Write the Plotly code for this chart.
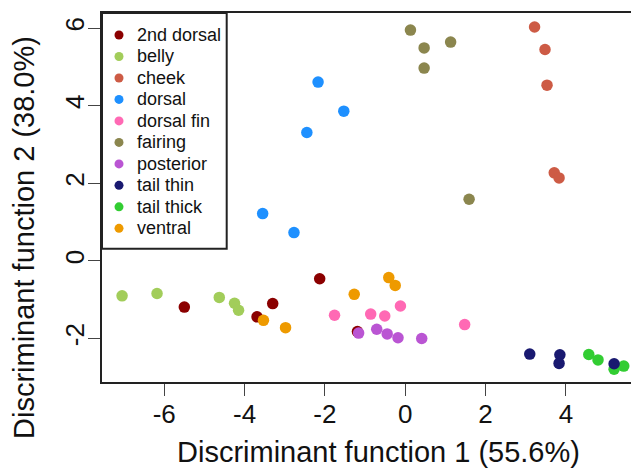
import plotly.graph_objects as go

# ---- data ----
categories = ["2nd dorsal", "belly", "cheek", "dorsal", "dorsal fin",
              "fairing", "posterior", "tail thin", "tail thick", "ventral"]
colors = ["#8B0000", "#A2CD5A", "#CD5B45", "#1E90FF", "#FF69B4",
          "#8B864E", "#BA55D3", "#191970", "#32CD32", "#EE9A00"]

x_2nd_dorsal = [-5.50, -3.30, -3.69, -2.13, -1.19]
y_2nd_dorsal = [-1.19, -1.10, -1.44, -0.46, -1.82]

x_belly = [-7.05, -6.18, -4.63, -4.25, -4.15]
y_belly = [-0.90, -0.84, -0.94, -1.09, -1.27]

x_cheek = [3.22, 3.48, 3.53, 3.71, 3.83]
y_cheek = [6.03, 5.45, 4.53, 2.27, 2.14]

x_dorsal = [-2.17, -1.53, -2.45, -3.55, -2.77]
y_dorsal = [4.61, 3.86, 3.31, 1.22, 0.73]

x_dorsal_fin = [-1.76, -0.86, -0.51, -0.12, 1.48]
y_dorsal_fin = [-1.40, -1.37, -1.42, -1.16, -1.64]

x_fairing = [0.13, 0.47, 1.13, 0.47, 1.59]
y_fairing = [5.95, 5.49, 5.64, 4.97, 1.59]

x_posterior = [-1.16, -0.71, -0.45, -0.18, 0.41]
y_posterior = [-1.86, -1.76, -1.88, -1.98, -2.00]

x_tail_thin = [3.10, 3.85, 3.83, 5.20]
y_tail_thin = [-2.40, -2.42, -2.64, -2.65]

x_tail_thick = [4.57, 4.80, 5.20, 5.44]
y_tail_thick = [-2.41, -2.55, -2.79, -2.71]

x_ventral = [-3.53, -2.98, -1.27, -0.41, -0.25]
y_ventral = [-1.53, -1.72, -0.86, -0.43, -0.63]

x_ticks = [-6, -4, -2, 0, 2, 4]
x_tick_labels = ["-6", "-4", "-2", "0", "2", "4"]
y_ticks = [-2, 0, 2, 4, 6]
y_tick_labels = ["-2", "0", "2", "4", "6"]
x_title = "Discriminant function 1 (55.6%)"
y_title = "Discriminant function 2 (38.0%)"

series = {
    "2nd dorsal": (x_2nd_dorsal, y_2nd_dorsal),
    "belly": (x_belly, y_belly),
    "cheek": (x_cheek, y_cheek),
    "dorsal": (x_dorsal, y_dorsal),
    "dorsal fin": (x_dorsal_fin, y_dorsal_fin),
    "fairing": (x_fairing, y_fairing),
    "posterior": (x_posterior, y_posterior),
    "tail thin": (x_tail_thin, y_tail_thin),
    "tail thick": (x_tail_thick, y_tail_thick),
    "ventral": (x_ventral, y_ventral),
}
draw_order = ["2nd dorsal", "belly", "cheek", "dorsal", "dorsal fin",
              "fairing", "posterior", "tail thick", "tail thin", "ventral"]

FONT = "Liberation Sans, Arial, Helvetica, sans-serif"
OFF = 8  # page body margin
W, H = 639 - OFF, 469 - OFF
ML, MR, MT, MB = 102 - OFF, 0, 13 - OFF, 87
PW, PH = W - ML - MR, H - MT - MB
PL_ABS, PT_ABS = 102, 13  # absolute plot-area origin in the page

fig = go.Figure()
for name in draw_order:
    xs, ys = series[name]
    fig.add_trace(go.Scatter(
        x=xs, y=ys, mode="markers", name=name, showlegend=False,
        marker=dict(color=colors[categories.index(name)], size=11.5,
                    line=dict(width=0)),
    ))

# ---- custom legend on a pixel overlay axis ----
leg_marker_x = 17
leg_text_x = 33
leg_y0 = 22
leg_dy = 21.48
leg_y = [leg_y0 + i * leg_dy for i in range(len(categories))]
fig.add_trace(go.Scatter(
    x=[leg_marker_x] * len(categories), y=leg_y, mode="markers",
    marker=dict(color=colors, size=9, line=dict(width=0)),
    xaxis="x2", yaxis="y2", showlegend=False, hoverinfo="skip",
))
annotations = []
for i, name in enumerate(categories):
    annotations.append(dict(
        x=leg_text_x, y=leg_y[i], xref="x2", yref="y2", text=name,
        showarrow=False, xanchor="left", yanchor="middle",
        font=dict(family=FONT, size=18, color="#111")))

# axis titles (absolute page pixels converted to paper coords)
annotations.append(dict(
    x=(378 - PL_ABS) / PW, y=1 - (452 - PT_ABS) / PH,
    xref="paper", yref="paper",
    text=x_title, showarrow=False, xanchor="center", yanchor="middle",
    font=dict(family=FONT, size=29, color="#111")))
annotations.append(dict(
    x=(24 - PL_ABS) / PW, y=1 - (238 - PT_ABS) / PH,
    xref="paper", yref="paper",
    text=y_title, showarrow=False, xanchor="center", yanchor="middle",
    textangle=-90, font=dict(family=FONT, size=29, color="#111")))

leg_right = 226.7
leg_bottom = 248.7
shapes = [dict(type="rect", xref="paper", yref="paper",
               x0=0, x1=(leg_right - PL_ABS) / PW,
               y0=1 - (leg_bottom - PT_ABS) / PH, y1=1,
               line=dict(color="#222", width=2), fillcolor="white",
               layer="below")]

fig.update_layout(
    width=W, height=H,
    margin=dict(l=ML, r=MR, t=MT, b=MB, pad=0),
    paper_bgcolor="white", plot_bgcolor="white",
    showlegend=False,
    font=dict(family=FONT, color="#111"),
    xaxis=dict(range=[-7.55, 5.82], tickvals=x_ticks, ticktext=x_tick_labels,
               showgrid=False, zeroline=False, showline=True, mirror=True,
               linecolor="#222", linewidth=2, ticks="outside", ticklen=12,
               tickwidth=1.2, tickcolor="#444", ticklabelstandoff=-4,
               tickfont=dict(family=FONT, size=26, color="#111")),
    yaxis=dict(range=[-3.12, 6.39], tickvals=y_ticks, ticktext=y_tick_labels,
               showgrid=False, zeroline=False, showline=True, mirror=False,
               linecolor="#222", linewidth=2, ticks="outside", ticklen=12,
               tickwidth=1.2, tickcolor="#444", tickangle=-90,
               ticklabelstandoff=-6,
               tickfont=dict(family=FONT, size=26, color="#111")),
    xaxis2=dict(overlaying="x", range=[0, PW], visible=False, anchor="y"),
    yaxis2=dict(overlaying="y", range=[PH, 0], visible=False, anchor="x"),
    annotations=annotations,
    shapes=shapes,
)

fig.write_html("out.html")
